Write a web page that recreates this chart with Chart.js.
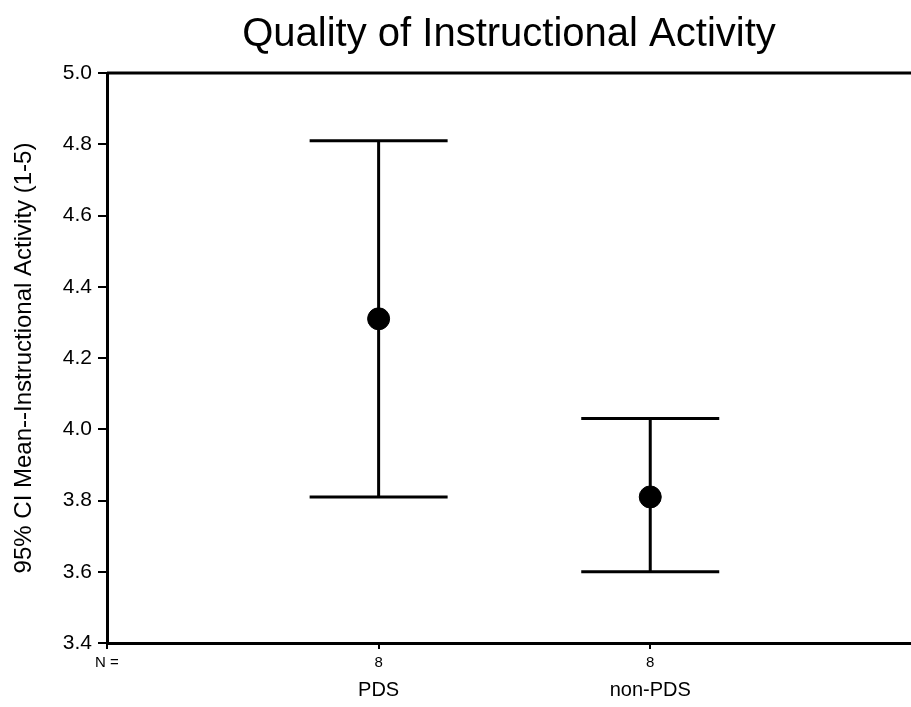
<!DOCTYPE html>
<html>
<head>
<meta charset="utf-8">
<script src="https://cdn.jsdelivr.net/npm/chart.js@4"></script>
<style>
  html, body { margin: 0; padding: 0; background: #fff; }
  #wrap { width: 911px; height: 707px; }
</style>
</head>
<body>
<div id="wrap"><canvas id="ciChart"></canvas></div>
<script>
const groups = ["PDS", "non-PDS"];
const groupPos = [1, 2];
const nCounts = [8, 8];
const means = [4.31, 3.81];
const ciLow = [3.81, 3.60];
const ciHigh = [4.81, 4.03];
const yTicks = [3.4, 3.6, 3.8, 4.0, 4.2, 4.4, 4.6, 4.8, 5.0];

const FONT = "'Liberation Sans', Arial, Helvetica, sans-serif";

// whiskers + caps, drawn under the mean markers
const errorBars = {
  id: "errorBars",
  beforeDatasetsDraw(chart) {
    const ctx = chart.ctx;
    const xs = chart.scales.x;
    const ys = chart.scales.y;
    const capHalf = 69;
    ctx.save();
    ctx.strokeStyle = "#000";
    ctx.lineWidth = 3;
    groupPos.forEach((g, i) => {
      const px = xs.getPixelForValue(g);
      const top = ys.getPixelForValue(ciHigh[i]);
      const bot = ys.getPixelForValue(ciLow[i]);
      ctx.beginPath();
      ctx.moveTo(px, top);
      ctx.lineTo(px, bot);
      ctx.moveTo(px - capHalf, top);
      ctx.lineTo(px + capHalf, top);
      ctx.moveTo(px - capHalf, bot);
      ctx.lineTo(px + capHalf, bot);
      ctx.stroke();
    });
    ctx.restore();
  }
};

// top frame line
const topFrame = {
  id: "topFrame",
  afterDraw(chart) {
    const a = chart.chartArea;
    const ctx = chart.ctx;
    ctx.save();
    ctx.strokeStyle = "#000";
    ctx.lineWidth = 3;
    ctx.beginPath();
    ctx.moveTo(a.left, a.top);
    ctx.lineTo(a.right, a.top);
    ctx.stroke();
    ctx.restore();
  }
};

function noSidePad(scale) {
  scale.paddingLeft = 0;
  scale.paddingRight = 0;
}

new Chart(document.getElementById("ciChart"), {
  type: "scatter",
  data: {
    datasets: [{
      label: "Mean",
      data: groupPos.map((g, i) => ({ x: g, y: means[i] })),
      backgroundColor: "#000",
      borderColor: "#000",
      pointRadius: 11,
      pointHoverRadius: 11
    }]
  },
  options: {
    responsive: true,
    maintainAspectRatio: false,
    animation: false,
    layout: { padding: 0, autoPadding: false },
    plugins: {
      legend: { display: false },
      tooltip: { enabled: false },
      title: {
        display: true,
        text: "Quality of Instructional Activity",
        fullSize: false,
        color: "#000",
        font: { family: FONT, size: 40, weight: "normal" },
        padding: { top: 11, bottom: 14 }
      }
    },
    scales: {
      x: {
        type: "linear",
        position: "bottom",
        weight: 1,
        min: 0,
        max: 2.96,
        afterBuildTicks(scale) {
          scale.ticks = [{ value: 0 }].concat(groupPos.map(v => ({ value: v })));
        },
        afterFit(scale) { scale.height = 28; noSidePad(scale); },
        ticks: {
          autoSkip: false,
          maxRotation: 0,
          color: "#000",
          padding: 5,
          font: { family: FONT, size: 15 },
          callback: (v) => v === 0 ? "N =" : String(nCounts[groupPos.indexOf(v)])
        },
        grid: { drawOnChartArea: false, drawTicks: true, tickLength: 6, color: "#000", lineWidth: 2 },
        border: { display: true, color: "#000", width: 3 }
      },
      x2: {
        type: "linear",
        position: "bottom",
        weight: 2,
        min: 0,
        max: 2.96,
        afterBuildTicks(scale) {
          scale.ticks = groupPos.map(v => ({ value: v }));
        },
        afterFit(scale) { scale.height = 36; noSidePad(scale); },
        ticks: {
          autoSkip: false,
          maxRotation: 0,
          color: "#000",
          padding: 7,
          font: { family: FONT, size: 20 },
          callback: (v) => groups[groupPos.indexOf(v)]
        },
        grid: { display: false, drawTicks: false },
        border: { display: false }
      },
      y: {
        min: 3.4,
        max: 5.0,
        afterBuildTicks(scale) {
          scale.ticks = yTicks.map(v => ({ value: v }));
        },
        afterFit(scale) { scale.width = 107; },
        ticks: {
          color: "#000",
          padding: 6,
          font: { family: FONT, size: 21 },
          callback: (v) => Number(v).toFixed(1)
        },
        grid: { drawOnChartArea: false, drawTicks: true, tickLength: 9, color: "#000", lineWidth: 2 },
        border: { display: true, color: "#000", width: 3 },
        title: {
          display: true,
          text: "95% CI Mean--Instructional Activity (1-5)",
          color: "#000",
          font: { family: FONT, size: 24 },
          padding: { top: 10, bottom: 0 }
        }
      }
    }
  },
  plugins: [errorBars, topFrame]
});
</script>
</body>
</html>
